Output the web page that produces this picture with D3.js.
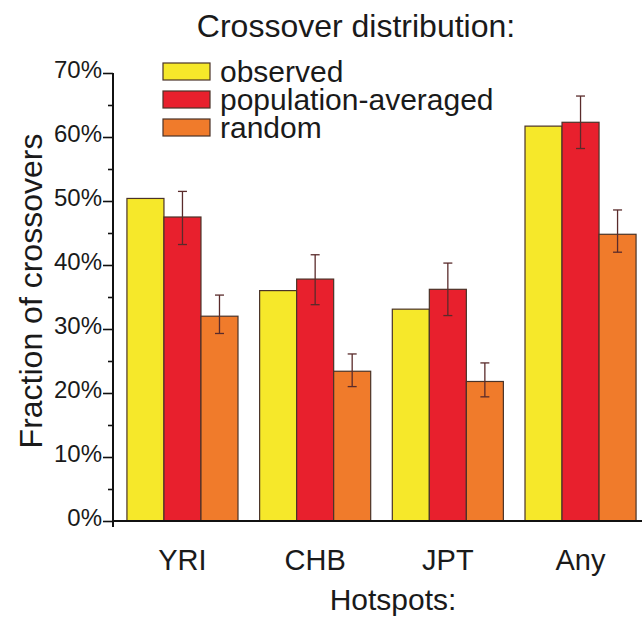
<!DOCTYPE html>
<html>
<head>
<meta charset="utf-8">
<script src="https://cdn.jsdelivr.net/npm/d3@7"></script>
<style>
  body { margin: 0; background: #fff; }
  svg { display: block; font-family: "Liberation Sans", Arial, sans-serif; }
</style>
</head>
<body>
<svg id="chart" width="642" height="617"></svg>
<script>
// values (percent)
const hotspots = ["YRI", "CHB", "JPT", "Any"];
const series = ["observed", "population-averaged", "random"];
const observed = [50.4, 36.0, 33.1, 61.7];
const popAveraged = [47.5, 37.8, 36.2, 62.3];
const popAvgLow = [43.2, 33.8, 32.1, 58.2];
const popAvgHigh = [51.5, 41.6, 40.3, 66.4];
const random = [32.0, 23.4, 21.8, 44.8];
const randomLow = [29.3, 21.0, 19.4, 42.0];
const randomHigh = [35.3, 26.1, 24.7, 48.6];
const majorTicks = [0, 10, 20, 30, 40, 50, 60, 70];
const minorTicks = [5, 15, 25, 35, 45, 55, 65];

const colours = {
  observed: "#f6e82a",
  "population-averaged": "#e8202d",
  random: "#f07b2b",
};
const outline = "#4a3328";
const errColour = "#5a2b2b";

const values = {
  observed: { v: observed },
  "population-averaged": { v: popAveraged, lo: popAvgLow, hi: popAvgHigh },
  random: { v: random, lo: randomLow, hi: randomHigh },
};

const rows = [];
hotspots.forEach((h, i) => {
  series.forEach((s) => {
    const d = values[s];
    rows.push({
      group: h,
      series: s,
      value: d.v[i],
      lo: d.lo ? d.lo[i] : null,
      hi: d.hi ? d.hi[i] : null,
    });
  });
});

const svg = d3.select("#chart");

const x = d3
  .scaleBand()
  .domain(hotspots)
  .range([113, 650])
  .paddingInner(0.163)
  .paddingOuter(0.105);
const xInner = d3.scaleBand().domain(series).range([0, x.bandwidth()]);
const y = d3.scaleLinear().domain([0, 70]).range([521, 73]);

// bars
svg
  .append("g")
  .selectAll("rect")
  .data(rows)
  .join("rect")
  .attr("x", (d) => x(d.group) + xInner(d.series))
  .attr("y", (d) => y(d.value))
  .attr("width", xInner.bandwidth())
  .attr("height", (d) => y(0) - y(d.value))
  .style("fill", (d) => colours[d.series])
  .style("stroke", outline)
  .style("stroke-width", 1.2);

// error bars
const errs = rows.filter((d) => d.lo !== null);
const eg = svg.append("g").style("stroke", errColour).style("stroke-width", 1.3);
const cx = (d) => x(d.group) + xInner(d.series) + xInner.bandwidth() / 2;
eg.selectAll("line.stem")
  .data(errs)
  .join("line")
  .attr("class", "stem")
  .attr("x1", cx)
  .attr("x2", cx)
  .attr("y1", (d) => y(d.lo))
  .attr("y2", (d) => y(d.hi));
["lo", "hi"].forEach((k) => {
  eg.selectAll(`line.cap-${k}`)
    .data(errs)
    .join("line")
    .attr("class", `cap-${k}`)
    .attr("x1", (d) => cx(d) - 4.5)
    .attr("x2", (d) => cx(d) + 4.5)
    .attr("y1", (d) => y(d[k]))
    .attr("y2", (d) => y(d[k]));
});

// y axis
const yAxis = svg.append("g").attr("transform", "translate(113,0)");
yAxis.call(
  d3
    .axisLeft(y)
    .tickValues(majorTicks)
    .tickFormat((d) => d + "%")
    .tickSize(10)
    .tickSizeOuter(0)
    .tickPadding(1)
);
yAxis.select(".domain").remove();
yAxis.selectAll("line").style("stroke", "#111").style("stroke-width", 1.6);
yAxis
  .selectAll("text")
  .style("font-size", "24px")
  .style("fill", "#1a1a1a")
  .attr("dy", "0.2em");

const yMinor = svg.append("g").attr("transform", "translate(113,0)");
yMinor.call(d3.axisLeft(y).tickValues(minorTicks).tickFormat("").tickSize(5).tickSizeOuter(0));
yMinor.select(".domain").remove();
yMinor.selectAll("line").style("stroke", "#111").style("stroke-width", 1.6);

// axis lines
svg
  .append("line")
  .attr("x1", 113)
  .attr("x2", 113)
  .attr("y1", y(70))
  .attr("y2", y(0) + 6)
  .style("stroke", "#111")
  .style("stroke-width", 2);
svg
  .append("line")
  .attr("x1", 113)
  .attr("x2", 642)
  .attr("y1", y(0))
  .attr("y2", y(0))
  .style("stroke", "#111")
  .style("stroke-width", 2);

// x labels
svg
  .append("g")
  .selectAll("text")
  .data(hotspots)
  .join("text")
  .attr("x", (d) => x(d) + x.bandwidth() / 2)
  .attr("y", 570)
  .attr("text-anchor", "middle")
  .style("font-size", "29px")
  .style("fill", "#1a1a1a")
  .text((d) => d);

svg
  .append("text")
  .attr("x", 393)
  .attr("y", 610)
  .attr("text-anchor", "middle")
  .style("font-size", "30px")
  .style("fill", "#1a1a1a")
  .text("Hotspots:");

svg
  .append("text")
  .attr("transform", "translate(42,291) rotate(-90)")
  .attr("text-anchor", "middle")
  .style("font-size", "32px")
  .style("fill", "#1a1a1a")
  .text("Fraction of crossovers");

svg
  .append("text")
  .attr("x", 356)
  .attr("y", 37)
  .attr("text-anchor", "middle")
  .style("font-size", "32px")
  .style("fill", "#1a1a1a")
  .text("Crossover distribution:");

// legend
const legend = svg
  .append("g")
  .selectAll("g")
  .data(series)
  .join("g")
  .attr("transform", (d, i) => `translate(163,${63 + i * 28})`);
legend
  .append("rect")
  .attr("width", 47)
  .attr("height", 17)
  .style("fill", (d) => colours[d])
  .style("stroke", outline)
  .style("stroke-width", 1.2);
legend
  .append("text")
  .attr("x", 57)
  .attr("y", 19)
  .style("font-size", "30px")
  .style("fill", "#1a1a1a")
  .text((d) => d);
</script>
</body>
</html>
